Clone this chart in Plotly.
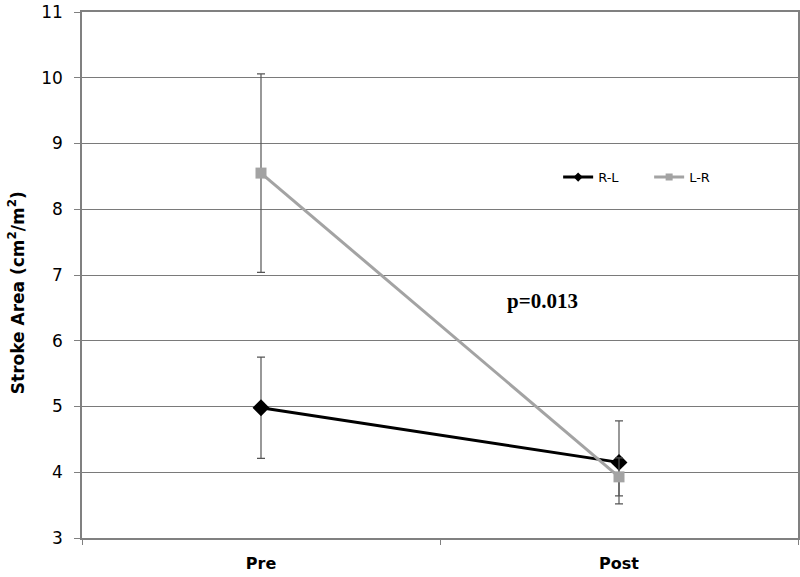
import plotly.graph_objects as go

phases = ["Pre", "Post"]
rl_mean = [4.98, 4.15]
rl_err = [0.77, 0.63]
lr_mean = [8.55, 3.93]
lr_err = [1.51, 0.29]
y_ticks = [3, 4, 5, 6, 7, 8, 9, 10, 11]

RL_COLOR = "#000000"
LR_COLOR = "#a3a3a3"

fig = go.Figure()
fig.add_trace(go.Scatter(
    x=phases, y=rl_mean, name="R-L", mode="lines+markers", showlegend=False,
    line=dict(color=RL_COLOR, width=3),
    marker=dict(symbol="diamond", size=13, color=RL_COLOR),
    error_y=dict(type="data", array=rl_err, color="#555555", thickness=1.2, width=4),
))
fig.add_trace(go.Scatter(
    x=phases, y=lr_mean, name="L-R", mode="lines+markers", showlegend=False,
    line=dict(color=LR_COLOR, width=3),
    marker=dict(symbol="square", size=11, color=LR_COLOR),
    error_y=dict(type="data", array=lr_err, color="#555555", thickness=1.2, width=4),
))
# legend entries with the smaller symbols of the original legend
fig.add_trace(go.Scatter(
    x=[None], y=[None], name="R-L", mode="lines+markers",
    line=dict(color=RL_COLOR, width=3), marker=dict(symbol="diamond", size=7, color=RL_COLOR),
))
fig.add_trace(go.Scatter(
    x=[None], y=[None], name="L-R", mode="lines+markers",
    line=dict(color=LR_COLOR, width=3), marker=dict(symbol="square", size=7, color=LR_COLOR),
))

fig.add_annotation(
    x=0.785, y=6.6, xref="x", yref="y", text="<b>p=0.013</b>", showarrow=False,
    font=dict(family="Liberation Serif", size=21, color="#000000"),
)
fig.add_annotation(
    x=-0.091, y=0.467, xref="paper", yref="paper", textangle=-90,
    text="<b>Stroke Area (cm<sup>2</sup>/m<sup>2</sup>)</b>", showarrow=False,
    xanchor="center", yanchor="middle",
    font=dict(family="DejaVu Sans", size=17, color="#000000"),
)

fig.update_layout(
    width=800, height=577,
    margin=dict(l=82, r=2, t=12, b=39),
    paper_bgcolor="white", plot_bgcolor="white",
    font=dict(family="DejaVu Sans", size=16, color="#000000"),
    legend=dict(orientation="h", x=0.665, y=0.686, xanchor="left", yanchor="middle",
                font=dict(size=13), bgcolor="rgba(0,0,0,0)",
                itemwidth=30, entrywidth=46, entrywidthmode="pixels"),
    xaxis=dict(
        type="category", range=[-0.5, 1.5], tickson="boundaries", automargin=False,
        ticks="outside", ticklen=5, tickcolor="#808080", ticklabelstandoff=10,
        showline=True, linecolor="#808080", linewidth=1.5, mirror=True,
        showgrid=False, tickfont=dict(size=16, family="DejaVu Sans", weight="bold"),
    ),
    yaxis=dict(
        range=[3, 11], tickvals=y_ticks, ticks="outside", ticklen=6, tickcolor="#808080",
        automargin=False, ticklabelstandoff=8, tickfont=dict(size=17),
        showline=True, linecolor="#808080", linewidth=1.5, mirror=True,
        showgrid=True, gridcolor="#7a7a7a", gridwidth=1.3, zeroline=False,
    ),
)

fig.write_html(
    "out.html",
    config={"displayModeBar": False},
    post_script="document.body.style.margin = '0px';",
)
